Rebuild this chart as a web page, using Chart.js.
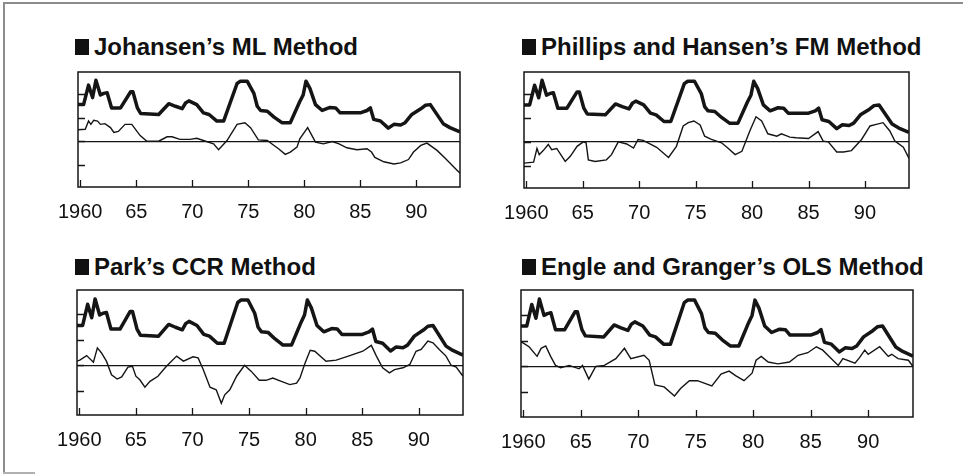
<!DOCTYPE html>
<html>
<head>
<meta charset="utf-8">
<script src="https://cdn.jsdelivr.net/npm/chart.js@4.4.1/dist/chart.umd.min.js"></script>
<style>
  body { margin: 0; background: #fff; width: 963px; height: 475px; position: relative; overflow: hidden;
         font-family: "Liberation Sans", Arial, sans-serif; }
  .line-top { position: absolute; left: 3px; top: 2px; width: 960px; border-top: 2px solid #8c8c8c; }
  .line-left { position: absolute; left: 3px; top: 2px; height: 471px; border-left: 2px solid #8c8c8c; }
  .line-bottom { position: absolute; left: 3px; top: 472px; width: 32px; border-top: 2px solid #b0b0b0; }
  .title { position: absolute; font-weight: bold; font-size: 24px; line-height: 24px; color: #111; white-space: nowrap; }
  .title .sq { display: inline-block; width: 14px; height: 16px; background: #111; margin-right: 5px; }
  canvas { position: absolute; }
</style>
</head>
<body>
<div class="line-top"></div>
<div class="line-left"></div>
<div class="line-bottom"></div>

<div class="title" style="left:75px;top:35px"><span class="sq"></span>Johansen’s ML Method</div>
<div class="title" style="left:522px;top:35px"><span class="sq"></span>Phillips and Hansen’s FM Method</div>
<div class="title" style="left:75px;top:255px"><span class="sq"></span>Park’s CCR Method</div>
<div class="title" style="left:522px;top:255px"><span class="sq"></span>Engle and Granger’s OLS Method</div>

<canvas id="ml" width="481" height="180" style="left:0;top:62px"></canvas>
<canvas id="fm" width="482" height="180" style="left:481px;top:62px"></canvas>
<canvas id="ccr" width="481" height="190" style="left:0;top:280px"></canvas>
<canvas id="ols" width="482" height="190" style="left:481px;top:280px"></canvas>

<script>
// axis ticks
var xTickYears = [1960, 1965, 1970, 1975, 1980, 1985, 1990];
var xTickLabels = ["1960", "65", "70", "75", "80", "85", "90"];
var yTickValues = [-1, 0, 1, 2];

// thick line (same in all four panels)
var actualYears = [1959.8,1960.3,1960.74,1961.1,1961.4,1961.8,1962.1,1962.4,1962.8,1963.6,1964.5,1964.7,1965.1,1965.4,1967.0,1967.9,1968.5,1969.1,1969.4,1969.7,1970.4,1971.0,1971.5,1972.2,1972.8,1974.0,1974.3,1974.9,1975.5,1975.8,1976.1,1976.7,1977.3,1978.0,1978.75,1979.6,1979.9,1980.15,1980.5,1981.0,1981.6,1982.3,1982.8,1983.2,1985.0,1985.6,1985.9,1986.2,1986.8,1987.5,1988.0,1988.6,1989.0,1989.6,1990.4,1990.8,1991.25,1992.4,1993.0,1993.9];
var actualRate = [1.56,1.56,2.39,1.86,2.6,1.97,2.04,2.07,1.42,1.42,2.11,2.11,1.42,1.18,1.14,1.6,1.49,1.39,1.63,1.72,1.56,1.21,1.14,0.86,0.86,2.46,2.56,2.56,2.04,1.49,1.31,1.28,1.03,0.79,0.79,1.69,1.97,2.56,2.25,1.56,1.31,1.44,1.42,1.21,1.21,1.31,1.42,0.93,0.86,0.56,0.72,0.69,0.79,1.14,1.38,1.53,1.56,0.75,0.58,0.40];

// thin lines, one per method
var mlYears = [1959.8,1960.45,1960.74,1960.95,1961.2,1961.55,1961.8,1962.2,1962.7,1963.0,1963.4,1964.0,1964.6,1965.35,1965.95,1967.0,1967.75,1968.2,1968.9,1969.8,1970.4,1971.0,1971.9,1972.35,1973.1,1974.0,1974.7,1975.2,1975.9,1976.7,1977.3,1977.7,1978.3,1978.75,1979.35,1979.6,1980.3,1981.0,1981.7,1982.5,1983.1,1983.8,1984.7,1985.6,1986.0,1986.3,1987.1,1988.0,1988.6,1989.3,1989.75,1990.4,1990.95,1991.85,1992.6,1993.9];
var mlValues = [0.49,0.51,0.86,0.72,0.89,0.86,0.72,0.75,0.58,0.375,0.42,0.72,0.72,0.24,0,0,0.19,0.19,0.08,0.08,0.125,0.03,-0.11,-0.36,0.03,0.72,0.79,0.58,0.06,0.03,-0.18,-0.32,-0.56,-0.46,-0.25,0.1,0.58,-0.04,-0.11,-0.01,-0.11,-0.28,-0.36,-0.32,-0.46,-0.69,-0.875,-0.97,-0.92,-0.78,-0.46,-0.18,-0.08,-0.39,-0.74,-1.36];

var fmYears = [1959.8,1960.65,1960.95,1961.15,1961.5,1961.95,1962.25,1962.7,1963.45,1963.9,1964.5,1965.05,1965.3,1965.5,1966.1,1967.1,1967.55,1968.15,1968.9,1969.5,1969.9,1970.35,1971.55,1972.6,1973.3,1973.9,1974.35,1974.85,1975.4,1975.8,1976.4,1977.3,1977.9,1978.5,1979.1,1979.8,1980.35,1980.85,1981.4,1982.2,1982.6,1983.35,1983.9,1985.0,1985.85,1986.3,1986.75,1987.5,1988.1,1988.8,1989.7,1990.45,1991.0,1991.6,1992.2,1992.65,1993.4,1993.9];
var fmValues = [-0.9,-0.86,-0.28,-0.54,-0.37,-0.11,-0.33,-0.28,-0.83,-0.61,-0.19,0,-0.04,-0.76,-0.83,-0.76,-0.54,0,-0.09,-0.26,0.1,0.06,-0.23,-0.66,-0.19,0.67,0.81,0.88,0.71,0.24,0.1,-0.04,-0.28,-0.54,-0.4,0.46,1.06,0.88,0.34,0.24,0.34,0.2,0.17,0.14,0.43,0.03,0,-0.43,-0.43,-0.37,0.1,0.67,0.74,0.81,0.46,0.03,-0.23,-0.7];

var ccrYears = [1959.8,1960.05,1960.65,1961.25,1961.6,1961.95,1962.4,1962.85,1963.35,1963.75,1964.3,1964.7,1965.0,1965.35,1965.8,1966.25,1966.95,1967.7,1968.6,1969.2,1970.05,1970.5,1970.95,1971.55,1972.1,1972.55,1972.85,1973.3,1973.9,1974.6,1975.2,1975.9,1976.5,1977.1,1977.85,1978.6,1979.2,1979.5,1979.9,1980.4,1980.8,1981.8,1982.7,1983.9,1985.05,1985.8,1986.25,1986.8,1987.4,1987.85,1988.6,1989.2,1989.75,1990.2,1990.8,1991.25,1991.8,1992.4,1992.85,1993.3,1993.9];
var ccrValues = [0.16,0.2,0.38,0.12,0.68,0.49,0.16,-0.37,-0.54,-0.46,-0.07,-0.04,-0.43,-0.57,-0.86,-0.63,-0.43,-0.04,0.36,0.16,0.33,0.29,-0.17,-0.86,-0.96,-1.49,-1.16,-0.96,-0.43,0,-0.24,-0.59,-0.59,-0.5,-0.63,-0.76,-0.7,-0.5,0.03,0.59,0.55,0.16,0.2,0.38,0.55,0.78,0.36,-0.1,-0.3,-0.17,-0.1,0.03,0.55,0.62,0.95,0.88,0.62,0.36,0,-0.07,-0.43];

var olsYears = [1959.8,1960.5,1961.2,1961.55,1961.95,1962.4,1962.8,1963.25,1964.0,1964.85,1965.15,1965.7,1966.3,1967.05,1968.05,1968.8,1969.35,1970.5,1970.95,1971.45,1972.25,1973.15,1973.7,1974.45,1975.15,1976.4,1977.2,1977.9,1978.5,1979.2,1979.9,1980.25,1980.7,1981.3,1982.15,1983.15,1983.9,1984.75,1985.5,1986.05,1986.8,1987.4,1987.8,1988.85,1989.25,1989.7,1990.0,1991.0,1991.75,1992.05,1992.6,1993.5,1993.9];
var olsValues = [0.96,0.76,0.39,0.7,0.79,0.37,0.04,-0.05,0.04,-0.09,0.04,-0.49,0,0.04,0.3,0.7,0.3,0.43,0.24,-0.71,-0.79,-1.14,-0.84,-0.55,-0.55,-0.75,-0.29,-0.18,-0.36,-0.55,-0.26,0.24,0.39,0.17,0.1,0.17,0.43,0.53,0.76,0.63,0.3,0.04,0.3,0.13,0.34,0.63,0.47,0.76,0.39,0.47,0.3,0.24,0];

var ink = "#151515";

function points(xs, ys) {
  return xs.map(function(x, i) { return { x: x, y: ys[i] }; });
}

// box around the plot area and inward tick marks
var framePlugin = {
  id: "frame",
  afterDraw: function(chart) {
    var ctx = chart.ctx, a = chart.chartArea;
    var xs = chart.scales.x, ys = chart.scales.y;
    ctx.save();
    ctx.strokeStyle = ink;
    ctx.lineWidth = 1.5;
    ctx.strokeRect(a.left, a.top, a.right - a.left, a.bottom - a.top);
    ctx.lineWidth = 1.3;
    ctx.beginPath();
    xTickYears.forEach(function(v) {
      var px = Math.round(xs.getPixelForValue(v)) + 0.5;
      ctx.moveTo(px, a.bottom);
      ctx.lineTo(px, a.bottom - 7);
    });
    yTickValues.forEach(function(v) {
      var py = Math.round(ys.getPixelForValue(v)) + 0.5;
      ctx.moveTo(a.left, py);
      ctx.lineTo(a.left + 7, py);
    });
    ctx.stroke();
    ctx.restore();
  }
};

function makePanel(id, thinYears, thinValues, pad) {
  return new Chart(document.getElementById(id), {
    type: "line",
    data: {
      datasets: [
        { data: points(actualYears, actualRate), borderColor: ink, borderWidth: 3.5, pointRadius: 0, borderJoinStyle: "round" },
        { data: points(thinYears, thinValues), borderColor: ink, borderWidth: 1.4, pointRadius: 0 }
      ]
    },
    options: {
      responsive: false,
      animation: false,
      events: [],
      layout: { padding: pad },
      plugins: { legend: { display: false }, tooltip: { enabled: false } },
      scales: {
        x: {
          type: "linear", min: 1959.8, max: 1993.9,
          afterBuildTicks: function(s) { s.ticks = xTickYears.map(function(v) { return { value: v }; }); },
          afterFit: function(s) { s.height = 40; },
          grid: { display: false, drawTicks: false },
          border: { display: false },
          ticks: {
            autoSkip: false, maxRotation: 0, padding: 13, color: "#111",
            font: { family: "'Liberation Sans', Arial, sans-serif", size: 20 },
            callback: function(v) { return xTickLabels[xTickYears.indexOf(v)]; }
          }
        },
        y: {
          min: -1.95, max: 2.95,
          afterBuildTicks: function(s) { s.ticks = yTickValues.map(function(v) { return { value: v }; }); },
          afterFit: function(s) { s.width = 0; },
          ticks: { display: false },
          border: { display: false },
          grid: {
            drawTicks: false, lineWidth: 1.3,
            color: function(c) { return c.tick && c.tick.value === 0 ? ink : "rgba(0,0,0,0)"; }
          }
        }
      }
    },
    plugins: [framePlugin]
  });
}

makePanel("ml", mlYears, mlValues, { left: 78, top: 10, right: 21, bottom: 15 });
makePanel("fm", fmYears, fmValues, { left: 43, top: 10, right: 54, bottom: 14 });
makePanel("ccr", ccrYears, ccrValues, { left: 77, top: 10, right: 18, bottom: 15 });
makePanel("ols", olsYears, olsValues, { left: 40, top: 10, right: 50, bottom: 13 });
</script>
</body>
</html>
